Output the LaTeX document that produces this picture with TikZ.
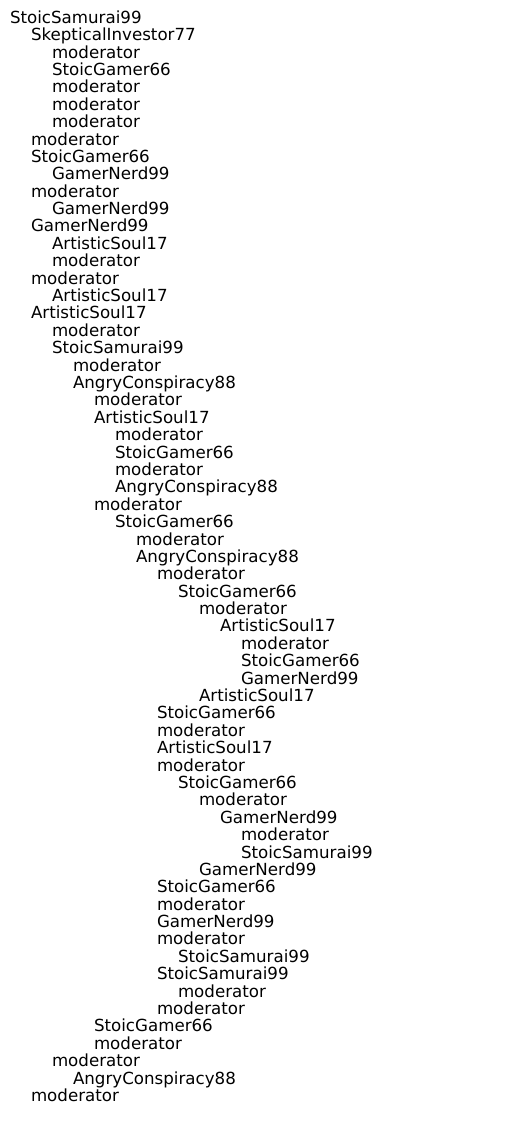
\documentclass[tikz,border=0pt]{standalone}
\usepackage{fontspec}
\setmainfont{DejaVu Sans}
\begin{document}
\begin{tikzpicture}[x=1pt,y=1pt,
  entry/.style={anchor=base west,inner sep=0pt,outer sep=0pt,font=\fontsize{16.67}{17.4}\selectfont,text=black}]
\useasboundingbox (0,0) rectangle (515,-1131);
\foreach \lvl/\txt [count=\i] in {
0/StoicSamurai99,
1/SkepticalInvestor77,
2/moderator,
2/StoicGamer66,
2/moderator,
2/moderator,
2/moderator,
1/moderator,
1/StoicGamer66,
2/GamerNerd99,
1/moderator,
2/GamerNerd99,
1/GamerNerd99,
2/ArtisticSoul17,
2/moderator,
1/moderator,
2/ArtisticSoul17,
1/ArtisticSoul17,
2/moderator,
2/StoicSamurai99,
3/moderator,
3/AngryConspiracy88,
4/moderator,
4/ArtisticSoul17,
5/moderator,
5/StoicGamer66,
5/moderator,
5/AngryConspiracy88,
4/moderator,
5/StoicGamer66,
6/moderator,
6/AngryConspiracy88,
7/moderator,
8/StoicGamer66,
9/moderator,
10/ArtisticSoul17,
11/moderator,
11/StoicGamer66,
11/GamerNerd99,
9/ArtisticSoul17,
7/StoicGamer66,
7/moderator,
7/ArtisticSoul17,
7/moderator,
8/StoicGamer66,
9/moderator,
10/GamerNerd99,
11/moderator,
11/StoicSamurai99,
9/GamerNerd99,
7/StoicGamer66,
7/moderator,
7/GamerNerd99,
7/moderator,
8/StoicSamurai99,
7/StoicSamurai99,
8/moderator,
7/moderator,
4/StoicGamer66,
4/moderator,
2/moderator,
3/AngryConspiracy88,
1/moderator}
{
  \node[entry] (n\i) at ({10+21.0*\lvl},{-23.3-17.39*(\i-1)}) {\txt};
}
\end{tikzpicture}
\end{document}
